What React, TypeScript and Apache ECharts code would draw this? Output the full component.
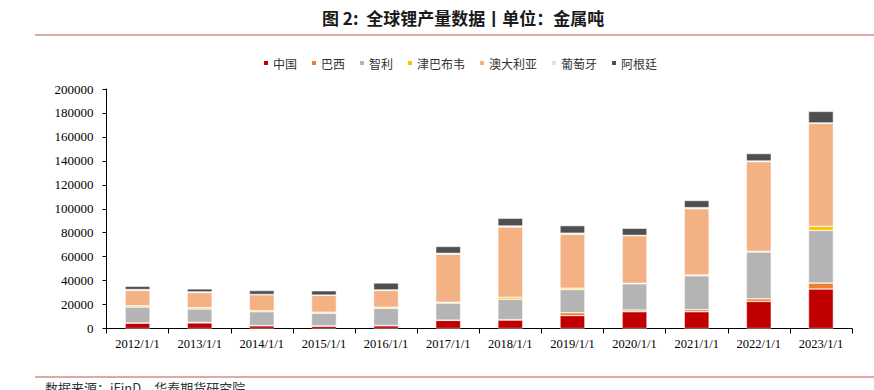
import React, { useEffect, useRef } from "react";
import * as echarts from "echarts";

const categories = ["2012/1/1","2013/1/1","2014/1/1","2015/1/1","2016/1/1","2017/1/1","2018/1/1","2019/1/1","2020/1/1","2021/1/1","2022/1/1","2023/1/1"];
const seriesNames = ["中国","巴西","智利","津巴布韦","澳大利亚","葡萄牙","阿根廷"];
const china = [4500,4700,2300,2000,2300,6800,7100,10800,14000,14000,22600,33000];
const brazil = [150,400,160,200,200,200,300,2400,1420,1700,2200,4900];
const chile = [13200,11200,11500,10500,14300,14200,17000,19300,21900,28300,39000,44000];
const zimbabwe = [1060,1000,900,900,1000,800,1600,1200,417,710,800,3400];
const australia = [12800,12700,13300,14100,14000,40000,58800,45000,39700,55300,74700,86000];
const portugal = [820,570,300,200,400,800,800,900,348,900,600,380];
const argentina = [2700,2500,3200,3600,5800,5700,6400,6300,5900,5970,6200,9600];
const colors = ["#c00000","#ed7d31","#b4b4b4","#ffc000","#f4b183","#dae3f3","#4f4f4f"];
const yTicks = [0,20000,40000,60000,80000,100000,120000,140000,160000,180000,200000];

export default function App() {
  const ref = useRef<HTMLDivElement>(null);
  useEffect(() => {
    if (!ref.current) return;
    const chart = echarts.init(ref.current, undefined, { renderer: "svg" });
    const data = [china, brazil, chile, zimbabwe, australia, portugal, argentina];
    chart.setOption({
      animation: false,
      title: {
        text: "图 2:  全球锂产量数据丨单位：金属吨",
        left: 317,
        top: 4,
        textStyle: { fontSize: 17, fontWeight: "bold", color: "#1a1a1a", fontFamily: "Noto Sans CJK SC" },
      },
      legend: {
        top: 52,
        left: 257,
        itemWidth: 6,
        itemHeight: 6,
        itemGap: 13,
        icon: "rect",
        textStyle: { fontSize: 12, color: "#333", fontFamily: "Noto Sans CJK SC", padding: [0, 0, 0, -1] },
        data: seriesNames,
      },
      grid: { left: 106.5, right: 22, top: 89, bottom: 61.5 },
      xAxis: {
        type: "category",
        data: categories,
        axisLine: { lineStyle: { color: "#000", width: 1 } },
        axisTick: { show: true, length: 5, lineStyle: { color: "#000" } },
        axisLabel: { fontSize: 12.5, color: "#000", fontFamily: "Liberation Serif", margin: 9 },
      },
      yAxis: {
        type: "value",
        min: yTicks[0],
        max: yTicks[yTicks.length - 1],
        interval: 20000,
        axisLine: { show: true, lineStyle: { color: "#000", width: 1 } },
        axisTick: { show: true, length: 4, lineStyle: { color: "#000" } },
        splitLine: { show: false },
        axisLabel: { fontSize: 13, color: "#000", fontFamily: "Liberation Serif", margin: 13, formatter: (v: number) => String(v) },
      },
      series: seriesNames.map((name, i) => ({
        name,
        type: "bar",
        stack: "total",
        barWidth: "40%",
        data: data[i],
        itemStyle: { color: colors[i], borderColor: "#fff", borderWidth: 0.5 },
      })),
      graphic: [
        { type: "line", shape: { x1: 35, y1: 35, x2: 874, y2: 35 }, style: { stroke: "#c0504d", lineWidth: 1 } },
        { type: "line", shape: { x1: 35, y1: 377, x2: 874, y2: 377 }, style: { stroke: "#c0504d", lineWidth: 1 } },
        { type: "text", left: 45, top: 381, style: { text: "数据来源：iFinD，华泰期货研究院", fontSize: 13, fill: "#333", fontFamily: "Noto Sans CJK SC" } },
      ],
    });
    return () => chart.dispose();
  }, []);
  return <div ref={ref} style={{ width: 874, height: 390, position: "absolute", left: 0, top: 0 }} />;
}
